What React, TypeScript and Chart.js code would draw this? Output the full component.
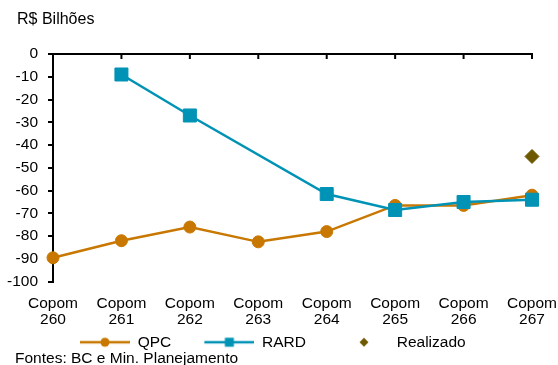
import React, { useEffect, useRef } from 'react';
import { Chart, registerables } from 'chart.js';

Chart.register(...registerables);

// ---- data ----
const copomNumbers = ['260', '261', '262', '263', '264', '265', '266', '267'];
const qpcValues = [-89.5, -82, -76, -82.5, -78, -66.5, -66.5, -62];
const rardValues = [null, -9, -27, null, -61.5, -68.5, -65, -64];
const realizadoValues = [null, null, null, null, null, null, null, -45];
const seriesNames = ['QPC', 'RARD', 'Realizado'];
const yMin = -100;
const yMax = 0;
const yStep = 10;
const titleText = 'R$ Bilhões';
const sourceText = 'Fontes: BC e Min. Planejamento';

// ---- styles ----
const FONT = "'Liberation Sans', Arial, Helvetica, sans-serif";
const FS = 15.5;
const ORANGE = '#C87800';
const TEAL = '#0093B6';
const OLIVE = '#6E5800';
const ICON_GAP = 27;

function makeIcon(kind: string, color: string): HTMLCanvasElement {
  const c = document.createElement('canvas');
  c.width = 50 + ICON_GAP;
  c.height = 14;
  const ctx = c.getContext('2d')!;
  ctx.translate(ICON_GAP, 0);
  ctx.fillStyle = color;
  ctx.strokeStyle = color;
  if (kind !== 'diamond') {
    ctx.lineWidth = 2.5;
    ctx.beginPath();
    ctx.moveTo(0, 7);
    ctx.lineTo(50, 7);
    ctx.stroke();
  }
  ctx.beginPath();
  if (kind === 'circle') {
    ctx.arc(25, 7, 4.5, 0, Math.PI * 2);
  } else if (kind === 'square') {
    ctx.rect(20.5, 2.5, 9, 9);
  } else {
    ctx.moveTo(25, 2.5);
    ctx.lineTo(29.5, 7);
    ctx.lineTo(25, 11.5);
    ctx.lineTo(20.5, 7);
    ctx.closePath();
  }
  ctx.fill();
  return c;
}

const topAxisPlugin = {
  id: 'topAxis',
  beforeDatasetsDraw(chart: any) {
    const { ctx, chartArea, scales } = chart;
    const y = scales.y.getPixelForValue(0);
    ctx.save();
    ctx.strokeStyle = '#000';
    ctx.lineWidth = 2;
    ctx.beginPath();
    ctx.moveTo(chartArea.left, y);
    ctx.lineTo(chartArea.right + 1, y);
    const n = scales.x.ticks.length;
    for (let i = 1; i < n; i++) {
      const x = scales.x.getPixelForTick(i);
      ctx.moveTo(x, y);
      ctx.lineTo(x, y + 5);
    }
    ctx.stroke();
    ctx.restore();
  },
};

const textPlugin = {
  id: 'texts',
  afterDraw(chart: any) {
    const { ctx } = chart;
    ctx.save();
    ctx.fillStyle = '#000';
    ctx.textBaseline = 'middle';
    ctx.textAlign = 'left';
    ctx.font = `16px ${FONT}`;
    ctx.fillText(titleText, 17, 20);
    ctx.font = `${FS}px ${FONT}`;
    ctx.fillText(sourceText, 15, 358.8);
    ctx.restore();
  },
};

export default function App() {
  const ref = useRef<HTMLCanvasElement>(null);

  useEffect(() => {
    if (!ref.current) return;
    const icons = [makeIcon('circle', ORANGE), makeIcon('square', TEAL), makeIcon('diamond', OLIVE)];
    const colors = [ORANGE, TEAL, OLIVE];

    const chart = new Chart(ref.current, {
      type: 'line',
      data: {
        labels: copomNumbers.map((n) => ['Copom', n]),
        datasets: [
          {
            label: seriesNames[1],
            data: rardValues,
            borderColor: TEAL,
            backgroundColor: TEAL,
            borderWidth: 2.5,
            pointStyle: 'rect',
            pointRadius: 9.2,
            pointBorderWidth: 1,
            pointBorderColor: TEAL,
            pointBackgroundColor: TEAL,
            spanGaps: true,
            order: 1,
          },
          {
            label: seriesNames[0],
            data: qpcValues,
            borderColor: ORANGE,
            backgroundColor: ORANGE,
            borderWidth: 2.5,
            pointStyle: 'circle',
            pointRadius: 6,
            pointBorderWidth: 1,
            pointBorderColor: ORANGE,
            pointBackgroundColor: ORANGE,
            order: 2,
          },
          {
            label: seriesNames[2],
            data: realizadoValues,
            borderColor: OLIVE,
            backgroundColor: OLIVE,
            showLine: false,
            pointStyle: 'rectRot',
            pointRadius: 7,
            pointBorderWidth: 1,
            pointBorderColor: OLIVE,
            pointBackgroundColor: OLIVE,
            order: 3,
          },
        ],
      },
      options: {
        responsive: false,
        animation: false,
        events: [],
        elements: { line: { tension: 0 } },
        layout: { padding: { left: -13.35, right: 26, top: 54, bottom: 5 } },
        scales: {
          x: {
            type: 'category',
            offset: false,
            grid: { display: false, drawTicks: true, tickLength: 13.7 },
            border: { display: false },
            ticks: {
              color: '#000',
              font: { family: FONT, size: FS, lineHeight: 1.05 },
              padding: 0,
              maxRotation: 0,
              autoSkip: false,
            },
            afterFit: (s: any) => {
              s.height = 46.8;
            },
          },
          y: {
            min: yMin,
            max: yMax,
            grid: {
              display: true,
              drawOnChartArea: false,
              drawTicks: true,
              tickLength: 5,
              color: '#000',
              lineWidth: 2,
            },
            border: { display: true, color: '#000', width: 2 },
            ticks: {
              stepSize: yStep,
              color: '#000',
              font: { family: FONT, size: FS },
              padding: 10,
            },
            afterFit: (s: any) => {
              s.width = 66.35;
            },
          },
        },
        plugins: {
          tooltip: { enabled: false },
          title: { display: false },
          legend: {
            display: true,
            position: 'bottom',
            align: 'center',
            labels: {
              usePointStyle: true,
              pointStyleWidth: 50 + ICON_GAP,
              padding: 6,
              color: '#000',
              font: { family: FONT, size: FS },
              generateLabels: () =>
                seriesNames.map((name, i) => ({
                  text: name,
                  pointStyle: icons[i],
                  fillStyle: colors[i],
                  strokeStyle: colors[i],
                  lineWidth: 0,
                  hidden: false,
                  fontColor: '#000',
                  datasetIndex: i === 0 ? 1 : i === 1 ? 0 : 2,
                })),
            },
          },
        },
      } as any,
      plugins: [topAxisPlugin, textPlugin],
    });
    return () => chart.destroy();
  }, []);

  return (
    <div style={{ position: 'absolute', left: 0, top: 0, width: 558, height: 365, overflow: 'hidden', background: '#fff' }}>
      <canvas ref={ref} width={558} height={365} style={{ display: 'block' }} />
    </div>
  );
}
